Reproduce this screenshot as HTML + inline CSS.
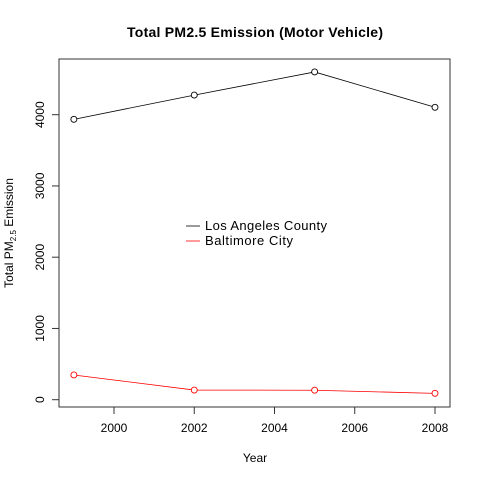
<!DOCTYPE html>
<html><head><style>body{margin:0;background:#fff}svg{display:block}text{font-family:"Liberation Sans",Arial,sans-serif}</style></head>
<body>
<svg id="c" width="480" height="480">
<text x="255" y="37" font-size="14" font-weight="bold" text-anchor="middle" textLength="256">Total PM2.5 Emission (Motor Vehicle)</text>
<rect x="59" y="59" width="391" height="348" fill="none" stroke="#333" stroke-width="1"/>
<text x="255" y="462" font-size="12" text-anchor="middle">Year</text>
<text transform="translate(13,233) rotate(-90)" font-size="12" text-anchor="middle">Total PM<tspan font-size="8" dy="3">2.5</tspan><tspan dy="-3"> Emission</tspan></text>
<g id="ax"></g><g id="marks"></g>
<g>
<line x1="186" y1="226" x2="200" y2="226" stroke="#000" stroke-width="0.8"/>
<text x="205" y="230" font-size="13" textLength="122">Los Angeles County</text>
<line x1="186" y1="241" x2="200" y2="241" stroke="#f00" stroke-width="0.8"/>
<text x="205" y="245" font-size="13" textLength="88">Baltimore City</text>
</g>
</svg>
<script>
const years=[1999,2002,2005,2008];
const laValues=[3935,4275,4600,4104];
const baltValues=[347,135,133,89];
const xTicks=[2000,2002,2004,2006,2008];
const yTicks=[0,1000,2000,3000,4000];
const NS="http://www.w3.org/2000/svg";
const X=v=>114+(v-2000)*40.125;
const Y=v=>399.7-v*0.07125;
function mk(t,a,p){const e=document.createElementNS(NS,t);for(const k in a)e.setAttribute(k,a[k]);p.appendChild(e);return e;}
const ax=document.getElementById('ax'),mg=document.getElementById('marks');
mk('line',{x1:X(2000),x2:X(2008),y1:407,y2:407,stroke:'#333'},ax);
xTicks.forEach(t=>{
 const l=mk('line',{x1:X(t),x2:X(t),y1:407,y2:414,stroke:'#333'},ax);
 
 
 const tx=mk('text',{x:X(t),y:432,'font-size':12,'text-anchor':'middle'},ax);tx.textContent=t;
 
 
});
mk('line',{x1:59,x2:59,y1:Y(0),y2:Y(4000),stroke:'#333'},ax);
yTicks.forEach(t=>{
 const l=mk('line',{x1:52,x2:59,y1:Y(t),y2:Y(t),stroke:'#333'},ax);
 
 
 const tx=mk('text',{transform:`translate(44,${Y(t)}) rotate(-90)`,'font-size':12,'text-anchor':'middle'},ax);tx.textContent=t;
 
 
});
function series(vals,col,name){
 const p=mk('polyline',{points:vals.map((v,i)=>X(years[i])+','+Y(v)).join(' '),fill:'none',stroke:col,'stroke-width':0.8},mg);
 
 
 vals.forEach((v,i)=>{
  const c=mk('circle',{cx:X(years[i]),cy:Y(v),r:3,fill:'#fff',stroke:col,'stroke-width':0.9},mg);
  
  
 });
}
series(laValues,'#000','la');
series(baltValues,'#f00','baltimore');
</script>
</body></html>
